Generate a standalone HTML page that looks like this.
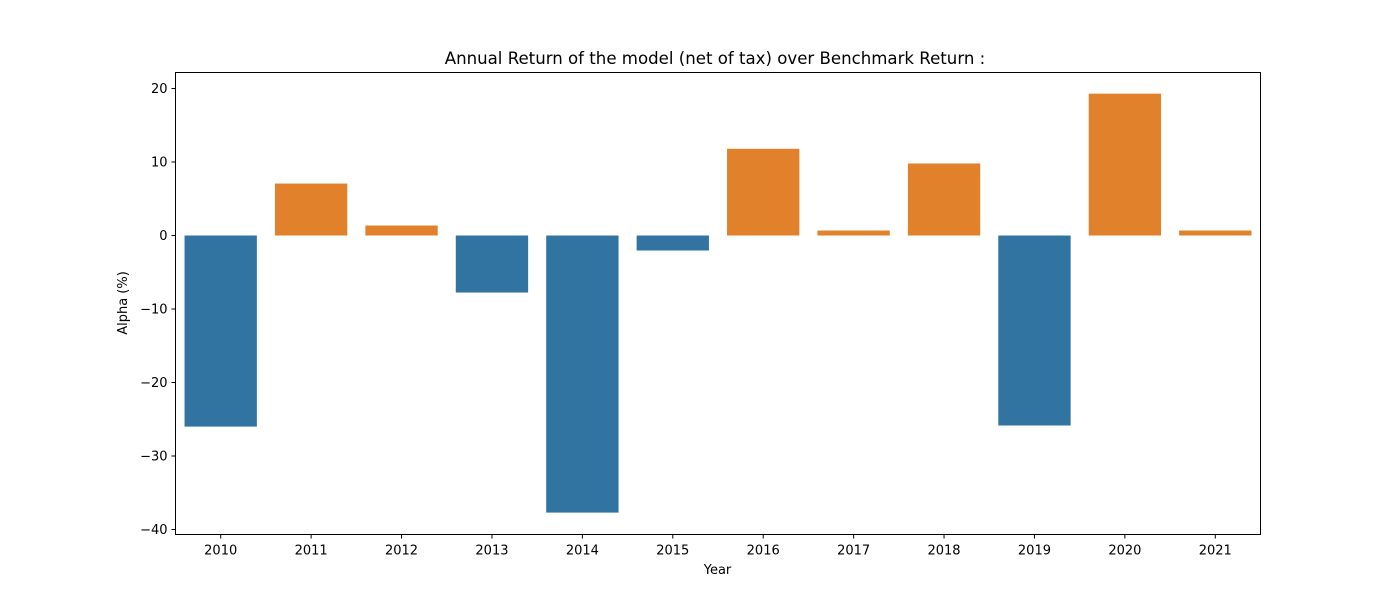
<!DOCTYPE html>
<html><head><meta charset="utf-8"><style>
html,body{margin:0;padding:0;background:#fff;}
svg{display:block;font-family:"DejaVu Sans","Liberation Sans",sans-serif;}
</style></head><body>
<svg id="chart" width="1400" height="600" xmlns="http://www.w3.org/2000/svg">
<rect width="1400" height="600" fill="#fff"/>
<text x="715" y="64" font-size="16.6" text-anchor="middle" fill="#000">Annual Return of the model (net of tax) over Benchmark Return :</text>
<g id="bars"></g>
<g id="xaxis"></g>
<g id="yaxis"></g>
<rect x="175.5" y="72.5" width="1085" height="462" fill="none" stroke="#000" stroke-width="1"/>
<text x="717.5" y="574" font-size="13" text-anchor="middle">Year</text>
<text transform="translate(127,303) rotate(-90)" font-size="13" text-anchor="middle">Alpha (%)</text>
</svg>
<script>
const years = ["2010","2011","2012","2013","2014","2015","2016","2017","2018","2019","2020","2021"];
const alphaValues = [-26.0, 7.07, 1.36, -7.76, -37.7, -2.04, 11.8, 0.68, 9.8, -25.85, 19.3, 0.68];
const yTicks = [20, 10, 0, -10, -20, -30, -40];
const yTickLabels = ["20","10","0","\u221210","\u221220","\u221230","\u221240"];

const NS = "http://www.w3.org/2000/svg";
const L = 175.5, R = 1260.5, T = 72.5, B = 534.5;
const yMin = -40.68, yMax = 22.18;
function y(v){ return B - (v - yMin) / (yMax - yMin) * (B - T); }
const band = (R - L) / years.length;
function xc(i){ return L + band * (i + 0.5); }
function mk(tag, attrs){ const e = document.createElementNS(NS, tag); for (const k in attrs) e.setAttribute(k, attrs[k]); return e; }

const bars = document.getElementById('bars');
alphaValues.forEach((v, i) => {
  const w = band * 0.8;
  const r = mk('rect', {x: xc(i) - w/2, y: Math.min(y(v), y(0)), width: w, height: Math.abs(y(v) - y(0)), fill: v >= 0 ? '#e1812c' : '#3274a1'});
  
  
  bars.appendChild(r);
});

const xa = document.getElementById('xaxis');
years.forEach((yr, i) => {
  const t = mk('line', {x1: xc(i), x2: xc(i), y1: B, y2: B + 4, stroke: '#000'});
  
  
  xa.appendChild(t);
  const l = mk('text', {x: xc(i), y: B + 20, 'font-size': 13, 'text-anchor': 'middle'});
  
  
  l.textContent = yr;
  xa.appendChild(l);
});

const ya = document.getElementById('yaxis');
yTicks.forEach((v, i) => {
  const t = mk('line', {x1: L - 4, x2: L, y1: y(v), y2: y(v), stroke: '#000'});
  
  
  ya.appendChild(t);
  const l = mk('text', {x: L - 8, y: y(v) + 4.5, 'font-size': 13, 'text-anchor': 'end'});
  
  
  l.textContent = yTickLabels[i];
  ya.appendChild(l);
});
</script>
</body></html>
